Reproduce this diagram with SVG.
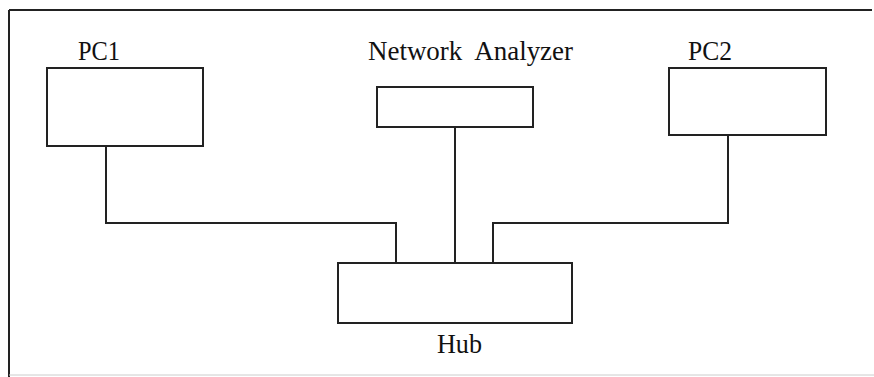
<svg xmlns="http://www.w3.org/2000/svg" width="874" height="377" viewBox="0 0 874 377">
<style>
.box{fill:#fff;stroke:#222;stroke-width:2}
.lbl{font-family:"Liberation Serif","Times New Roman",serif;font-size:27px;fill:#111}
.wire{fill:none;stroke:#222;stroke-width:2}
</style>
<rect width="874" height="377" fill="#fff"/>
<g id="frame">
<line x1="9" y1="10" x2="872" y2="10" stroke="#222" stroke-width="2"/>
<line x1="9" y1="10" x2="9" y2="377" stroke="#222" stroke-width="2"/>
<line x1="9" y1="375" x2="874" y2="375" stroke="#ccc" stroke-width="1"/>
</g>
<g id="connectors">
<polyline class="wire" points="106,146 106,223 396,223 396,263"/>
<polyline class="wire" points="455,127 455,263"/>
<polyline class="wire" points="728,135 728,223 493,223 493,263"/>
</g>
<g id="pc1">
<rect class="box" x="47" y="68" width="156" height="78"/>
<text class="lbl" x="78" y="60" textLength="42" lengthAdjust="spacingAndGlyphs">PC1</text>
</g>
<g id="analyzer">
<rect class="box" x="377" y="87" width="156" height="40"/>
<text class="lbl" x="368" y="60" textLength="205" lengthAdjust="spacingAndGlyphs" style="white-space:pre">Network  Analyzer</text>
</g>
<g id="pc2">
<rect class="box" x="669" y="68" width="157" height="67"/>
<text class="lbl" x="688" y="60" textLength="44" lengthAdjust="spacingAndGlyphs">PC2</text>
</g>
<g id="hub">
<rect class="box" x="338" y="263" width="234" height="60"/>
<text class="lbl" x="437" y="353" textLength="45" lengthAdjust="spacingAndGlyphs">Hub</text>
</g>
</svg>
